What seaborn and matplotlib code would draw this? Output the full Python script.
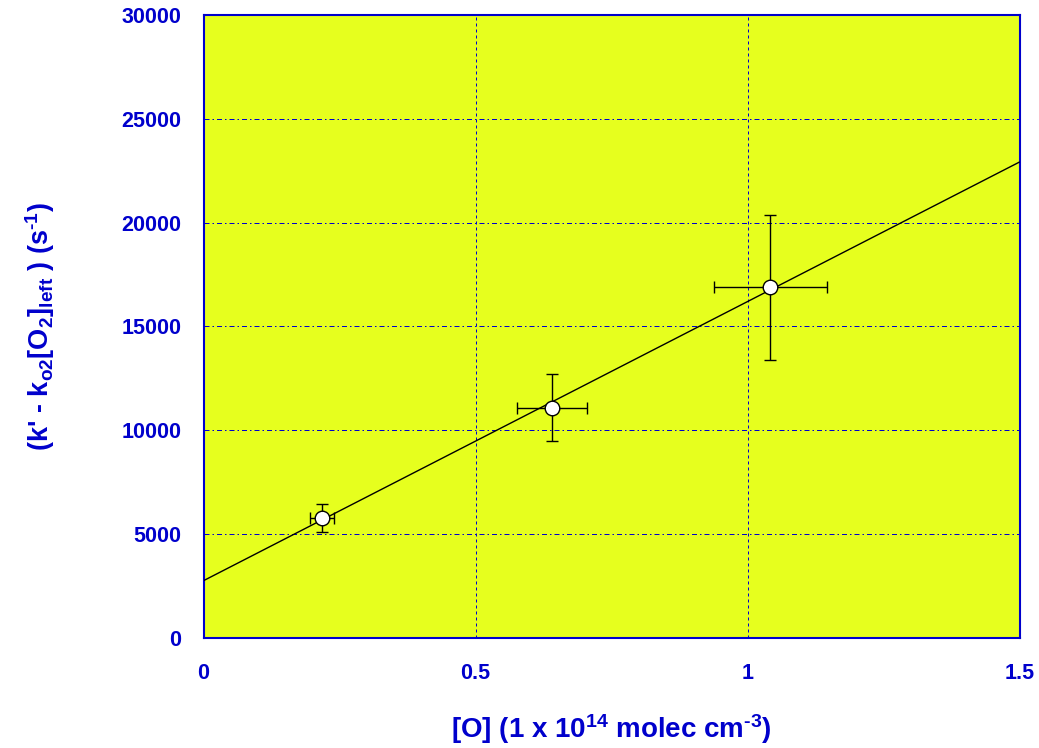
import numpy as np
import pandas as pd
import matplotlib
matplotlib.use("Agg")
import matplotlib.pyplot as plt
import seaborn as sns

# Measured points: [O] (1e14 molec cm^-3) vs corrected decay rate (s^-1)
o_conc = [0.217, 0.641, 1.042]
k_corr = [5780, 11090, 16900]
o_err = [0.022, 0.064, 0.104]
k_err = [670, 1600, 3490]

# Linear fit: intercept and slope
fit_intercept = 2760
fit_slope = 13440

x_ticks = [0, 0.5, 1, 1.5]
x_tick_labels = ["0", "0.5", "1", "1.5"]
y_ticks = [0, 5000, 10000, 15000, 20000, 25000, 30000]

blue = "#0000CC"
panel = "#E6FF1E"

sns.set_theme(style="white")
plt.rcParams["font.family"] = ["Liberation Sans", "DejaVu Sans"]
plt.rcParams["font.weight"] = "bold"
plt.rcParams["mathtext.fontset"] = "custom"
plt.rcParams["mathtext.rm"] = "Liberation Sans:bold"
plt.rcParams["mathtext.it"] = "Liberation Sans:bold"
plt.rcParams["mathtext.bf"] = "Liberation Sans:bold"
plt.rcParams["mathtext.default"] = "rm"

fig = plt.figure(figsize=(10.39, 7.48), dpi=100)
ax = fig.add_axes([203.5 / 1039, 1 - 638 / 748, 816 / 1039, 623 / 748])
ax.set_facecolor(panel)

# Fitted line across the full x range
fit_df = pd.DataFrame({"x": [0.0, 1.5]})
fit_df["y"] = fit_intercept + fit_slope * fit_df["x"]
sns.lineplot(data=fit_df, x="x", y="y", ax=ax, color="black", linewidth=1.0, zorder=3)

# Error bars and data points
ax.errorbar(o_conc, k_corr, xerr=o_err, yerr=k_err, fmt="none", ecolor="black",
            elinewidth=1.0, capsize=4, capthick=1.0, zorder=4)
pts = pd.DataFrame({"x": o_conc, "y": k_corr})
sns.scatterplot(data=pts, x="x", y="y", ax=ax, s=110, color="white",
                edgecolor="black", linewidth=1.0, zorder=5)

ax.set_xlim(0, 1.5)
ax.set_ylim(0, 30000)
ax.set_xticks(x_ticks)
ax.set_xticklabels(x_tick_labels)
ax.set_yticks(y_ticks)

# One-pixel grid lines, snapped to the pixel grid so the blue stays crisp
ax.yaxis.grid(True, color=blue, linestyle=(0, (5, 3, 1.5, 3)), linewidth=0.72)
ax.xaxis.grid(True, color=blue, linestyle=(0, (3, 3)), linewidth=0.72)
ax.set_axisbelow(True)
for gl in ax.get_xgridlines() + ax.get_ygridlines():
    gl.set_snap(True)
for s in ax.spines.values():
    s.set_color(blue)
    s.set_linewidth(1.5)
    s.set_visible(True)

ax.tick_params(axis="both", length=0, labelcolor=blue, labelsize=15.5)
ax.tick_params(axis="y", pad=16)
ax.tick_params(axis="x", pad=18)
for lab in ax.get_xticklabels() + ax.get_yticklabels():
    lab.set_fontweight("bold")

ax.set_xlabel("[O] (1 x 10$^{14}$ molec cm$^{\u2010 3}$)", color=blue, fontsize=20,
              fontweight="bold", labelpad=20)
ax.set_ylabel("(k' - k$_{o2}$[O$_2$]$_{left}$ ) (s$^{\u2010 1}$)", color=blue, fontsize=19.5,
              fontweight="bold", labelpad=46)

fig.savefig("out.png", dpi=100, facecolor="white")
